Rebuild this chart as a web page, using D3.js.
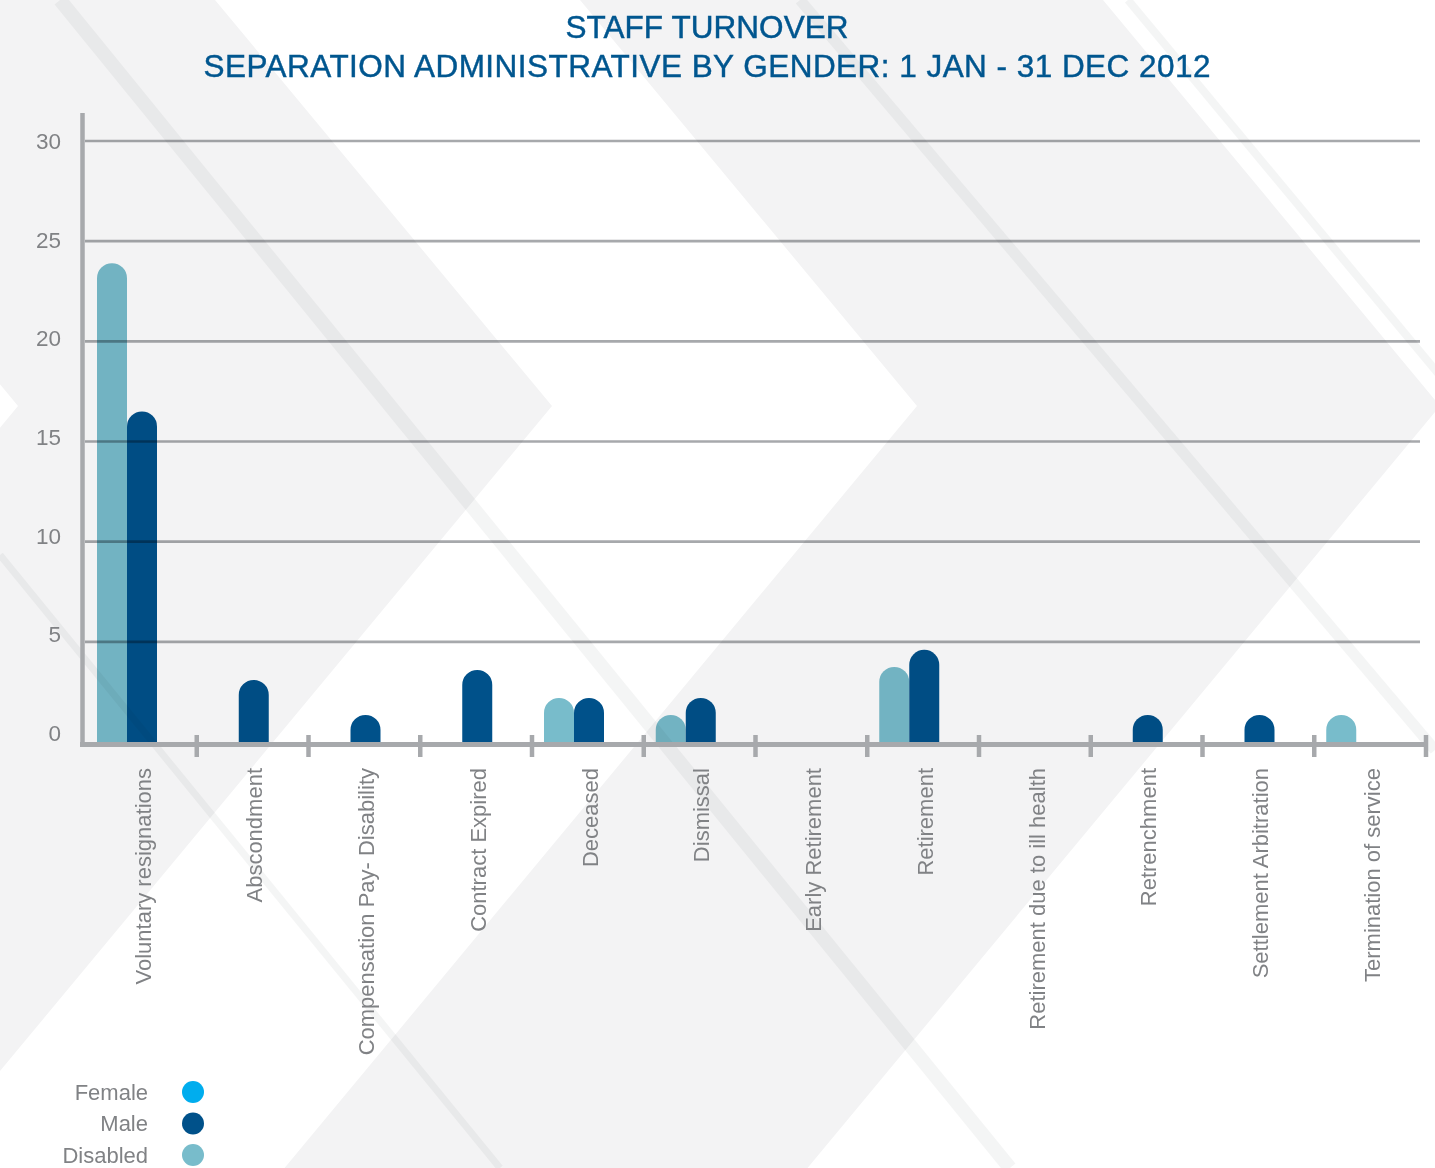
<!DOCTYPE html>
<html>
<head>
<meta charset="utf-8">
<title>Staff Turnover – Separation Administrative by Gender 2012</title>
<script src="https://cdn.jsdelivr.net/npm/d3@7"></script>
<style>
  html, body { margin: 0; padding: 0; background: #ffffff; }
  svg { display: block; font-family: "Liberation Sans", Arial, Helvetica, sans-serif; }
</style>
</head>
<body>
<svg id="chart" width="1435" height="1168"></svg>
<script>
// ---- data -------------------------------------------------------------
const categories = [
  "Voluntary resignations",
  "Abscondment",
  "Compensation Pay- Disability",
  "Contract Expired",
  "Deceased",
  "Dismissal",
  "Early Retirement",
  "Retirement",
  "Retirement due to ill health",
  "Retrenchment",
  "Settlement Arbitration",
  "Termination of service"
];
const seriesNames   = ["Female", "Male", "Disabled"];
const femaleValues   = [0, 0, 0, 0, 0, 0, 0, 0, 0, 0, 0, 0];
const maleValues     = [16.5, 3.1, 1.35, 3.6, 2.2, 2.2, 0, 4.6, 0, 1.35, 1.35, 0];
const disabledValues = [23.9, 0, 0, 0, 2.2, 1.35, 0, 3.75, 0, 0, 0, 1.35];
const yTickValues = [0, 5, 10, 15, 20, 25, 30];
const titleLines = [
  "STAFF TURNOVER",
  "SEPARATION ADMINISTRATIVE BY GENDER: 1 JAN - 31 DEC 2012"
];
const seriesColors = { Female: "#00adee", Male: "#00518a", Disabled: "#78bccb" };

// ---- setup ------------------------------------------------------------
const W = 1435, H = 1168;
const svg = d3.select("#chart");
const AXIS_GREY = "#a7a9ac";
const TEXT_GREY = "#808285";

// ---- decorative chevron background -------------------------------------
const bg = svg.append("g").attr("class", "background");
bg.append("rect").attr("width", W).attr("height", H).attr("fill", "#ffffff");

const TIP_Y = 406, SLOPE = 0.83;
const armX = (tip, yy) => tip - SLOPE * Math.abs(yy - TIP_Y);
// band between two right-pointing chevron outlines
function chevronBand(tipA, tipB) {
  return [
    [armX(tipA, 0), 0], [armX(tipB, 0), 0], [tipB, TIP_Y],
    [armX(tipB, H), H], [armX(tipA, H), H], [tipA, TIP_Y]
  ];
}
const line = d3.line();
[[18, 552], [917, 1440]].forEach(([a, b]) => {
  bg.append("path").attr("d", line(chevronBand(a, b)) + "Z").attr("fill", "#f3f3f4");
});

// faint diagonal sheen stripes
const stripes = [
  { p: [[60, 0], [1010, H]], w: 14 },
  { p: [[0, 555], [500, H]], w: 7 },
  { p: [[800, 0], [1435, 750]], w: 11 },
  { p: [[1128, 0], [1465, TIP_Y]], w: 8 }
];
stripes.forEach(s => {
  bg.append("path").attr("d", line(s.p))
    .attr("stroke", "#e4e5e7").attr("stroke-width", s.w)
    .attr("stroke-opacity", 0.4).attr("fill", "none")
    .style("mix-blend-mode", "multiply");
});

// ---- scales -----------------------------------------------------------
const x0 = d3.scaleBand().domain(categories).range([85, 1426]).paddingInner(0).paddingOuter(0);
const x1 = d3.scaleBand().domain(["Disabled", "Male", "Female"]).range([12, 102]);
const y = d3.scaleLinear().domain([0, 30]).range([742, 141]);
const yLabel = d3.scaleLinear().domain([0, 30]).range([733, 141]);

// ---- title ------------------------------------------------------------
const titleWidths = [283, 1007];
svg.append("g").attr("class", "title").selectAll("text").data(titleLines).join("text")
  .attr("x", 707).attr("y", (d, i) => 38 + i * 39)
  .attr("text-anchor", "middle")
  .attr("fill", "#00568f")
  .attr("stroke", "#00568f").attr("stroke-width", 0.45)
  .attr("font-size", 31.5)
  .attr("textLength", (d, i) => titleWidths[i])
  .attr("lengthAdjust", "spacing")
  .text(d => d);

// ---- bars (rounded tops) ----------------------------------------------
const valuesBySeries = { Female: femaleValues, Male: maleValues, Disabled: disabledValues };
const barData = [];
categories.forEach((c, i) => {
  seriesNames.forEach(s => {
    const v = valuesBySeries[s][i];
    if (v > 0) barData.push({ category: c, series: s, value: v });
  });
});
function capBar(x, w, yTop, yBase) {
  const r = w / 2;
  return `M${x},${yBase}V${yTop + r}A${r},${r} 0 0 1 ${x + w},${yTop + r}V${yBase}Z`;
}
svg.append("g").attr("class", "bars").selectAll("path").data(barData).join("path")
  .attr("d", d => capBar(x0(d.category) + x1(d.series), x1.bandwidth(), y(d.value), y(0)))
  .attr("fill", d => seriesColors[d.series])
  .style("mix-blend-mode", "multiply");

// ---- gridlines (over the bars) ----------------------------------------
svg.append("g").attr("class", "grid").selectAll("line").data(yTickValues.filter(v => v > 0)).join("line")
  .attr("x1", 85).attr("x2", 1420)
  .attr("y1", d => y(d)).attr("y2", d => y(d))
  .attr("stroke", AXIS_GREY).attr("stroke-width", 2.6)
  .style("mix-blend-mode", "multiply");

// ---- y axis ------------------------------------------------------------
svg.append("line")
  .attr("x1", 82.5).attr("x2", 82.5).attr("y1", 113).attr("y2", 747)
  .attr("stroke", AXIS_GREY).attr("stroke-width", 4.5);

svg.append("g").attr("class", "y-labels").selectAll("text").data(yTickValues).join("text")
  .attr("x", 61).attr("y", d => yLabel(d)).attr("dy", "0.36em")
  .attr("text-anchor", "end").attr("fill", TEXT_GREY).attr("font-size", 22.5)
  .text(d => d);

// ---- x axis ------------------------------------------------------------
const xAxis = svg.append("g").attr("class", "x-axis");
xAxis.append("line")
  .attr("x1", 80).attr("x2", 1428).attr("y1", 744.5).attr("y2", 744.5)
  .attr("stroke", AXIS_GREY).attr("stroke-width", 5);
xAxis.selectAll("line.tick").data(categories).join("line").attr("class", "tick")
  .attr("x1", d => x0(d) + x0.bandwidth()).attr("x2", d => x0(d) + x0.bandwidth())
  .attr("y1", 735).attr("y2", 757)
  .attr("stroke", AXIS_GREY).attr("stroke-width", 4.5);

svg.append("g").attr("class", "x-labels").selectAll("text").data(categories).join("text")
  .attr("transform", d => `translate(${x0(d) + x0.bandwidth() / 2 + 1},768) rotate(-90)`)
  .attr("dy", "0.4em")
  .attr("text-anchor", "end").attr("fill", TEXT_GREY).attr("font-size", 22)
  .text(d => d);

// ---- legend ------------------------------------------------------------
const legend = svg.append("g").attr("class", "legend")
  .selectAll("g").data(seriesNames).join("g")
  .attr("transform", (d, i) => `translate(0,${1092 + i * 31.5})`);
legend.append("text")
  .attr("x", 148).attr("dy", "0.36em").attr("text-anchor", "end")
  .attr("fill", TEXT_GREY).attr("font-size", 22)
  .text(d => d);
legend.append("circle")
  .attr("cx", 193).attr("r", 11)
  .attr("fill", d => seriesColors[d]);
</script>
</body>
</html>
